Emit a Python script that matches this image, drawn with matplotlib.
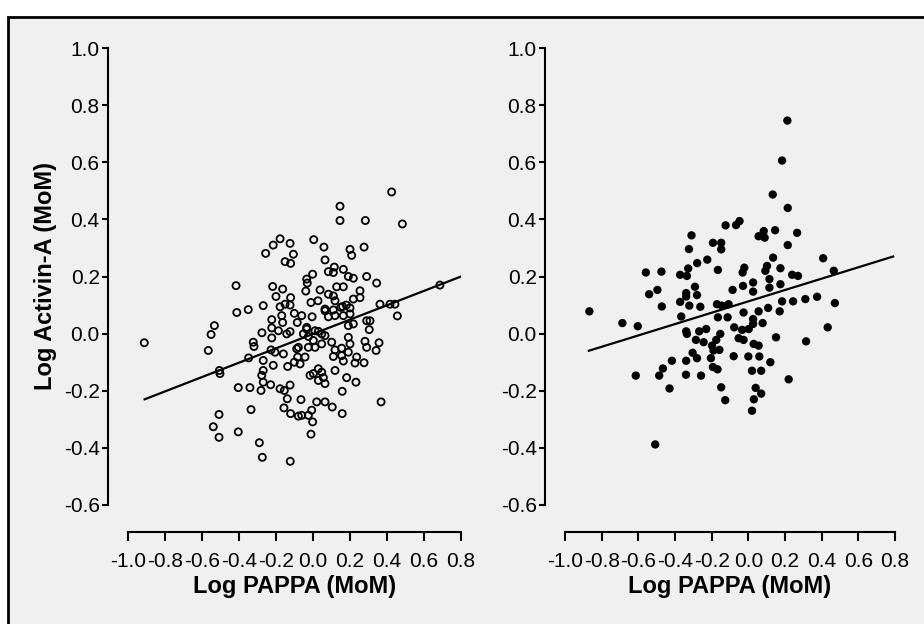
import numpy as np
import matplotlib
matplotlib.use('Agg')
import matplotlib.pyplot as plt
from matplotlib.patches import Rectangle

plt.rcParams['font.family'] = ['Liberation Sans', 'DejaVu Sans']
plt.rcParams['axes.unicode_minus'] = False

# Panel izquierdo (circulos abiertos)
left_x = [-0.178, -0.215, -0.124, -0.256, -0.106, -0.151, -0.121, 0.004, -0.002, -0.034,
          -0.031, -0.416, -0.218, -0.164, -0.039, -0.200, -0.121, -0.011, 0.027, -0.269,
          -0.350, -0.151, -0.178, -0.124, 0.038,
          -0.912, -0.533, -0.551, -0.566, -0.412, -0.223, -0.169, -0.164, -0.223, -0.187,
          -0.276, -0.223, -0.142, -0.124, -0.052, -0.034, -0.005, -0.061, -0.101, -0.085,
          0.002, -0.025, -0.079, 0.011, -0.323, -0.319, -0.348, -0.227, -0.205, -0.160,
          -0.269, -0.215, -0.269, -0.277, -0.088, -0.083, -0.101, -0.070, -0.043, -0.137,
          -0.506, -0.503, -0.269, -0.229, -0.404, -0.341, -0.281, -0.178, -0.155, -0.124,
          -0.139, -0.065, 0.020, -0.335, -0.157, -0.121, -0.079, -0.061, -0.025, -0.007,
          -0.002, -0.011, -0.508, -0.539, -0.508, -0.404, -0.290, -0.274, -0.123,
          0.425, 0.146, 0.146, 0.283, 0.483, 0.059, 0.200, 0.209, 0.276, 0.065,
          0.115, 0.164, 0.083, 0.110, 0.191, 0.218, 0.290, 0.344, 0.083, 0.128,
          0.164, 0.110, 0.119, 0.218, 0.254, 0.254, 0.160, 0.180, 0.200, 0.150,
          0.362, 0.416, 0.443, 0.686, 0.065, 0.110,
          0.456, 0.065, 0.083, 0.119, 0.164, 0.200, 0.290, 0.308, 0.304, -0.034,
          0.011, 0.029, 0.047, 0.065, -0.025, 0.191, 0.218, 0.191, 0.200, 0.101,
          0.047, 0.281, 0.290, 0.357, 0.341, 0.119, 0.155, 0.191, 0.110, 0.155,
          0.164, 0.227, 0.236, 0.276, 0.119, 0.002, 0.029, 0.047, -0.016, 0.029,
          0.065, 0.056, 0.182, 0.232, 0.158, 0.065, 0.104, 0.158, 0.368]
left_y = [0.332, 0.310, 0.316, 0.281, 0.278, 0.252, 0.246, 0.329, 0.208, 0.191,
          0.177, 0.168, 0.165, 0.156, 0.149, 0.130, 0.126, 0.109, 0.115, 0.098,
          0.084, 0.103, 0.094, 0.100, 0.153,
          -0.032, 0.028, -0.003, -0.059, 0.074, 0.049, 0.063, 0.039, 0.020, 0.010,
          0.003, -0.015, -0.001, 0.007, -0.001, 0.016, 0.059, 0.063, 0.071, 0.039,
          -0.024, -0.048, -0.048, -0.048, -0.030, -0.045, -0.085, -0.057, -0.065, -0.071,
          -0.094, -0.111, -0.129, -0.146, -0.053, -0.082, -0.100, -0.106, -0.082, -0.115,
          -0.129, -0.140, -0.170, -0.179, -0.189, -0.189, -0.199, -0.193, -0.199, -0.180,
          -0.228, -0.231, -0.239, -0.266, -0.260, -0.280, -0.289, -0.286, -0.286, -0.268,
          -0.309, -0.352, -0.283, -0.326, -0.363, -0.344, -0.382, -0.433, -0.447,
          0.496, 0.446, 0.396, 0.396, 0.384, 0.303, 0.295, 0.274, 0.303, 0.258,
          0.233, 0.225, 0.217, 0.214, 0.200, 0.194, 0.200, 0.177, 0.138, 0.164,
          0.164, 0.132, 0.115, 0.121, 0.150, 0.126, 0.095, 0.100, 0.090, 0.092,
          0.103, 0.103, 0.103, 0.170, 0.086, 0.083,
          0.062, 0.080, 0.059, 0.063, 0.063, 0.069, 0.045, 0.045, 0.014, 0.022,
          0.010, 0.008, -0.001, -0.007, -0.010, 0.028, 0.034, -0.013, -0.036, -0.030,
          -0.036, -0.027, -0.048, -0.032, -0.059, -0.057, -0.051, -0.065, -0.080, -0.077,
          -0.096, -0.103, -0.082, -0.102, -0.129, -0.140, -0.123, -0.135, -0.146, -0.164,
          -0.175, -0.154, -0.154, -0.170, -0.202, -0.239, -0.257, -0.280, -0.239]
left_fit_x = [-0.91, 0.80]
left_fit_y = [-0.23, 0.20]

# Panel derecho (puntos llenos)
right_x = [-0.048, -0.067, -0.124, -0.310, -0.324, -0.193, -0.148, -0.148, -0.224, -0.279,
           -0.328, -0.166, -0.559, -0.474, -0.372, -0.335, -0.022, -0.031, -0.291, -0.496,
           -0.541, -0.339, -0.339, -0.280, -0.086, -0.029,
           -0.867, -0.472, -0.687, -0.603, -0.372, -0.322, -0.262, -0.366, -0.171, -0.144,
           -0.108, -0.166, -0.113, -0.026, -0.339, -0.335, -0.268, -0.230, -0.153, -0.077,
           -0.034, 0.002, -0.286, -0.244, -0.175, -0.053, -0.026, -0.198, -0.190, -0.158,
           -0.304, -0.280, -0.204, -0.080, -0.417, -0.339, -0.466, -0.193, -0.168, -0.614,
           -0.486, -0.340, -0.258, -0.430, -0.148, -0.126, -0.508,
           0.184, 0.133, 0.215, 0.084, 0.056, 0.089, 0.146, 0.266, 0.215, 0.135,
           0.408, 0.466, 0.102, 0.093, 0.175, 0.239, 0.271, 0.026, 0.026, 0.115,
           0.115, 0.175, 0.184, 0.244, 0.311, 0.375, 0.472, 0.056, 0.108, 0.171,
           0.026, 0.026, 0.078, 0.433, 0.029, 0.056, 0.151, 0.315,
           0.213, 0.000, 0.060, 0.020, 0.070, 0.040, 0.030, 0.020, 0.070, 0.220, 0.120]
right_y = [0.394, 0.380, 0.379, 0.344, 0.296, 0.318, 0.318, 0.295, 0.259, 0.247,
           0.228, 0.223, 0.214, 0.217, 0.206, 0.202, 0.231, 0.214, 0.164, 0.153,
           0.138, 0.142, 0.130, 0.135, 0.153, 0.167,
           0.078, 0.095, 0.037, 0.026, 0.111, 0.098, 0.094, 0.060, 0.103, 0.098,
           0.103, 0.057, 0.057, 0.074, 0.008, -0.001, 0.008, 0.016, -0.001, 0.022,
           0.013, 0.016, -0.022, -0.030, -0.022, -0.016, -0.022, -0.042, -0.059, -0.057,
           -0.067, -0.086, -0.086, -0.079, -0.095, -0.095, -0.122, -0.117, -0.125, -0.147,
           -0.147, -0.144, -0.147, -0.192, -0.188, -0.233, -0.388,
           0.606, 0.487, 0.440, 0.359, 0.341, 0.336, 0.362, 0.353, 0.310, 0.266,
           0.264, 0.220, 0.237, 0.220, 0.229, 0.206, 0.202, 0.179, 0.147, 0.191,
           0.161, 0.173, 0.113, 0.113, 0.121, 0.129, 0.107, 0.078, 0.090, 0.078,
           0.051, 0.034, 0.037, 0.022, -0.036, -0.042, -0.013, -0.027,
           0.746, -0.080, -0.080, -0.130, -0.130, -0.190, -0.230, -0.270, -0.210, -0.160, -0.100]
right_fit_x = [-0.87, 0.79]
right_fit_y = [-0.06, 0.27]

yticks = [-0.6, -0.4, -0.2, 0.0, 0.2, 0.4, 0.6, 0.8, 1.0]
xticks = [-1.0, -0.8, -0.6, -0.4, -0.2, 0.0, 0.2, 0.4, 0.6, 0.8]

W, H = 924, 624
fig = plt.figure(figsize=(W / 100, H / 100), dpi=100, facecolor='white')

# marco gris con borde negro (detras de todo)
marco = Rectangle((8 / W, -0.05), 1.05, (H - 17) / H + 0.05, transform=fig.transFigure,
                  facecolor='#f0f0f0', edgecolor='black', linewidth=2, zorder=-10)
fig.add_artist(marco)


def make_axes(x0, x1, y_top, y_bot):
    ax = fig.add_axes([x0 / W, (H - y_bot) / H, (x1 - x0) / W, (y_bot - y_top) / H])
    ax.set_facecolor('none')
    ax.set_xlim(-1.0, 0.8)
    ax.set_ylim(-0.6, 1.0)
    for s in ['top', 'right']:
        ax.spines[s].set_visible(False)
    ax.spines['left'].set_position(('outward', 20 * 0.72))
    ax.spines['bottom'].set_position(('outward', 27 * 0.72))
    ax.spines['left'].set_linewidth(1.5)
    ax.spines['bottom'].set_linewidth(1.5)
    ax.set_xticks(xticks)
    ax.set_xticklabels([f'{t:.1f}' for t in xticks])
    ax.set_yticks(yticks)
    ax.set_yticklabels([f'{t:.1f}' for t in yticks])
    ax.tick_params(axis='y', direction='out', length=4, width=1.5, labelsize=15, pad=2)
    ax.tick_params(axis='x', direction='out', length=6.5, width=1.5, labelsize=15, pad=8)
    return ax


ax1 = make_axes(128, 461, 48, 505)
ax1.scatter(left_x, left_y, s=26, facecolors='none', edgecolors='black', linewidths=1.3, clip_on=False)
ax1.plot(left_fit_x, left_fit_y, color='black', linewidth=1.6)
ax1.set_xlabel('Log PAPPA (MoM)', fontsize=17, fontweight='bold', labelpad=3)
ax1.set_ylabel('Log Activin-A (MoM)', fontsize=17, fontweight='bold', labelpad=5)

ax2 = make_axes(565, 895, 48, 505)
ax2.scatter(right_x, right_y, s=36, color='black', edgecolors='none', clip_on=False)
ax2.plot(right_fit_x, right_fit_y, color='black', linewidth=1.6)
ax2.set_xlabel('Log PAPPA (MoM)', fontsize=17, fontweight='bold', labelpad=3)

fig.savefig('out.png', dpi=100)
